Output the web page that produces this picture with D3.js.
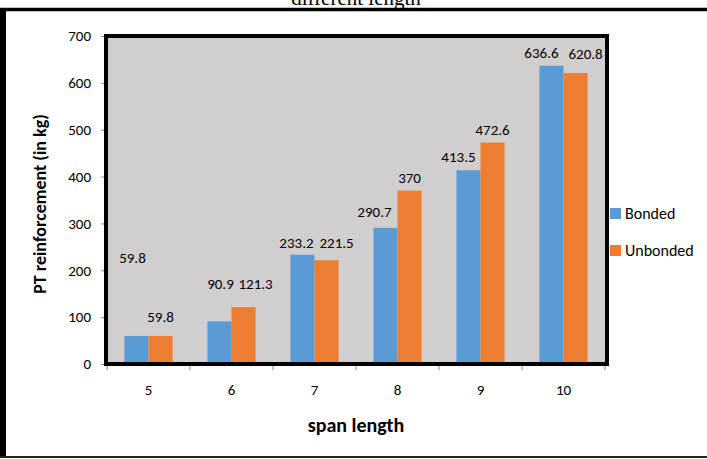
<!DOCTYPE html>
<html>
<head>
<meta charset="utf-8">
<script src="https://cdn.jsdelivr.net/npm/d3@7"></script>
<style>
  body { margin: 0; background: #fff; }
  svg text { font-family: Carlito, Lato, sans-serif; fill: #000; }
</style>
</head>
<body>
<div class="chart"></div>
<script>
var spans = ["5", "6", "7", "8", "9", "10"];
var bonded = [59.8, 90.9, 233.2, 290.7, 413.5, 636.6];
var unbonded = [59.8, 121.3, 221.5, 370, 472.6, 620.8];
var yTicks = [0, 100, 200, 300, 400, 500, 600, 700];
var seriesNames = ["Bonded", "Unbonded"];

// labels were dragged by hand in the original: pixel nudges [dx, dy]
var nudgeB = [[-4, -65], [1, -24], [-6, 1], [-11, -3], [-10, 0], [-10, 0]];
var nudgeU = [[0, -6], [12, -10], [10, -4], [0, 0], [0, 0], [10, -6]];

var svgWidth = 707;
var svgHeight = 459;
var colors = ["#5b9bd5", "#ed7d31"];

var svg = d3.select(".chart")
  .append("svg")
  .attr("width", svgWidth)
  .attr("height", svgHeight);

// outer frame of the figure
svg.append("line").attr("x1", 0).attr("x2", svgWidth).attr("y1", 9.5).attr("y2", 9.5)
  .attr("stroke", "#000").attr("stroke-width", 3.5);
svg.append("line").attr("x1", 3).attr("x2", 3).attr("y1", 8).attr("y2", 458)
  .attr("stroke", "#000").attr("stroke-width", 6);
svg.append("line").attr("x1", 0).attr("x2", svgWidth).attr("y1", 457).attr("y2", 457)
  .attr("stroke", "#222").attr("stroke-width", 2);

// cut off caption above the frame
svg.append("text")
  .attr("x", 356)
  .attr("y", 5)
  .attr("text-anchor", "middle")
  .style("font-family", "'Liberation Serif', 'DejaVu Serif', serif")
  .style("font-size", "21px")
  .text("different length");

var plot = { left: 106, top: 36, right: 607, bottom: 364 };

var x0 = d3.scaleBand()
  .domain(spans)
  .range([107, 605])
  .paddingInner(0.42)
  .paddingOuter(0.21);

var x1 = d3.scaleBand()
  .domain(seriesNames)
  .range([0, x0.bandwidth()]);

var y = d3.scaleLinear()
  .domain([0, 700])
  .range([plot.bottom, plot.top]);

var chart = svg.append("g");

chart.append("rect")
  .attr("x", plot.left)
  .attr("y", plot.top)
  .attr("width", plot.right - plot.left)
  .attr("height", plot.bottom - plot.top)
  .attr("fill", "#d0cece");

var groups = chart.selectAll(".grp")
  .data(spans)
  .enter()
  .append("g")
  .attr("class", "grp")
  .attr("transform", function(d) { return "translate(" + x0(d) + ",0)"; });

var allSeries = [bonded, unbonded];

groups.selectAll("rect")
  .data(function(d, i) {
    return seriesNames.map(function(name, k) {
      return { name: name, value: allSeries[k][i], k: k };
    });
  })
  .enter()
  .append("rect")
  .attr("x", function(d) { return x1(d.name); })
  .attr("y", function(d) { return y(d.value); })
  .attr("width", x1.bandwidth())
  .attr("height", function(d) { return y(0) - y(d.value); })
  .attr("fill", function(d) { return colors[d.k]; });

// value labels
var nudges = [nudgeB, nudgeU];
allSeries.forEach(function(vals, k) {
  chart.selectAll(".lbl" + k)
    .data(vals)
    .enter()
    .append("text")
    .attr("class", "lbl" + k)
    .attr("x", function(d, i) { return x0(spans[i]) + x1(seriesNames[k]) + x1.bandwidth() / 2 + nudges[k][i][0]; })
    .attr("y", function(d, i) { return y(d) - 8 + nudges[k][i][1]; })
    .attr("text-anchor", "middle")
    .style("font-size", "15px")
    .text(function(d) { return d; });
});

// axes
var leftAxis = d3.axisLeft(y).tickValues(yTicks).tickSize(4).tickPadding(10);
var yAx = chart.append("g")
  .attr("transform", "translate(" + (plot.left - 1) + ",0)")
  .call(leftAxis);
yAx.selectAll("line, path").attr("stroke", "#868686");
yAx.selectAll("text").style("font-size", "15px").attr("fill", "#000");

var xAx = chart.append("g")
  .attr("transform", "translate(0," + (plot.bottom + 1) + ")");
xAx.append("line")
  .attr("x1", 107).attr("x2", 605)
  .attr("stroke", "#868686");
xAx.selectAll(".tk")
  .data(d3.range(spans.length + 1))
  .enter()
  .append("line")
  .attr("x1", function(i) { return 107 + i * x0.step(); })
  .attr("x2", function(i) { return 107 + i * x0.step(); })
  .attr("y1", 0).attr("y2", 5)
  .attr("stroke", "#868686");
xAx.selectAll("text")
  .data(spans)
  .enter()
  .append("text")
  .attr("x", function(d) { return x0(d) + x0.bandwidth() / 2; })
  .attr("y", 30)
  .attr("text-anchor", "middle")
  .style("font-size", "15px")
  .text(function(d) { return d; });

// black border of plot area
chart.append("rect")
  .attr("x", plot.left)
  .attr("y", plot.top)
  .attr("width", plot.right - plot.left)
  .attr("height", plot.bottom - plot.top)
  .attr("fill", "none")
  .attr("stroke", "#000")
  .attr("stroke-width", 4);

// axis titles
chart.append("text")
  .attr("transform", "translate(46," + ((plot.top + plot.bottom) / 2 + 4) + ") rotate(-90)")
  .attr("text-anchor", "middle")
  .style("font-size", "18px")
  .style("font-weight", "bold")
  .text("PT reinforcement (in kg)");

chart.append("text")
  .attr("x", 356)
  .attr("y", 432)
  .attr("text-anchor", "middle")
  .style("font-size", "20px")
  .style("font-weight", "bold")
  .text("span length");

// legend
var legend = svg.selectAll(".legend")
  .data(seriesNames)
  .enter()
  .append("g")
  .attr("class", "legend")
  .attr("transform", function(d, i) { return "translate(610," + (208 + i * 37) + ")"; });

legend.append("rect")
  .attr("width", 11).attr("height", 11)
  .attr("fill", function(d, i) { return colors[i]; });

legend.append("text")
  .attr("x", 15)
  .attr("y", 11)
  .style("font-size", "16px")
  .text(function(d) { return d; });
</script>
</body>
</html>
